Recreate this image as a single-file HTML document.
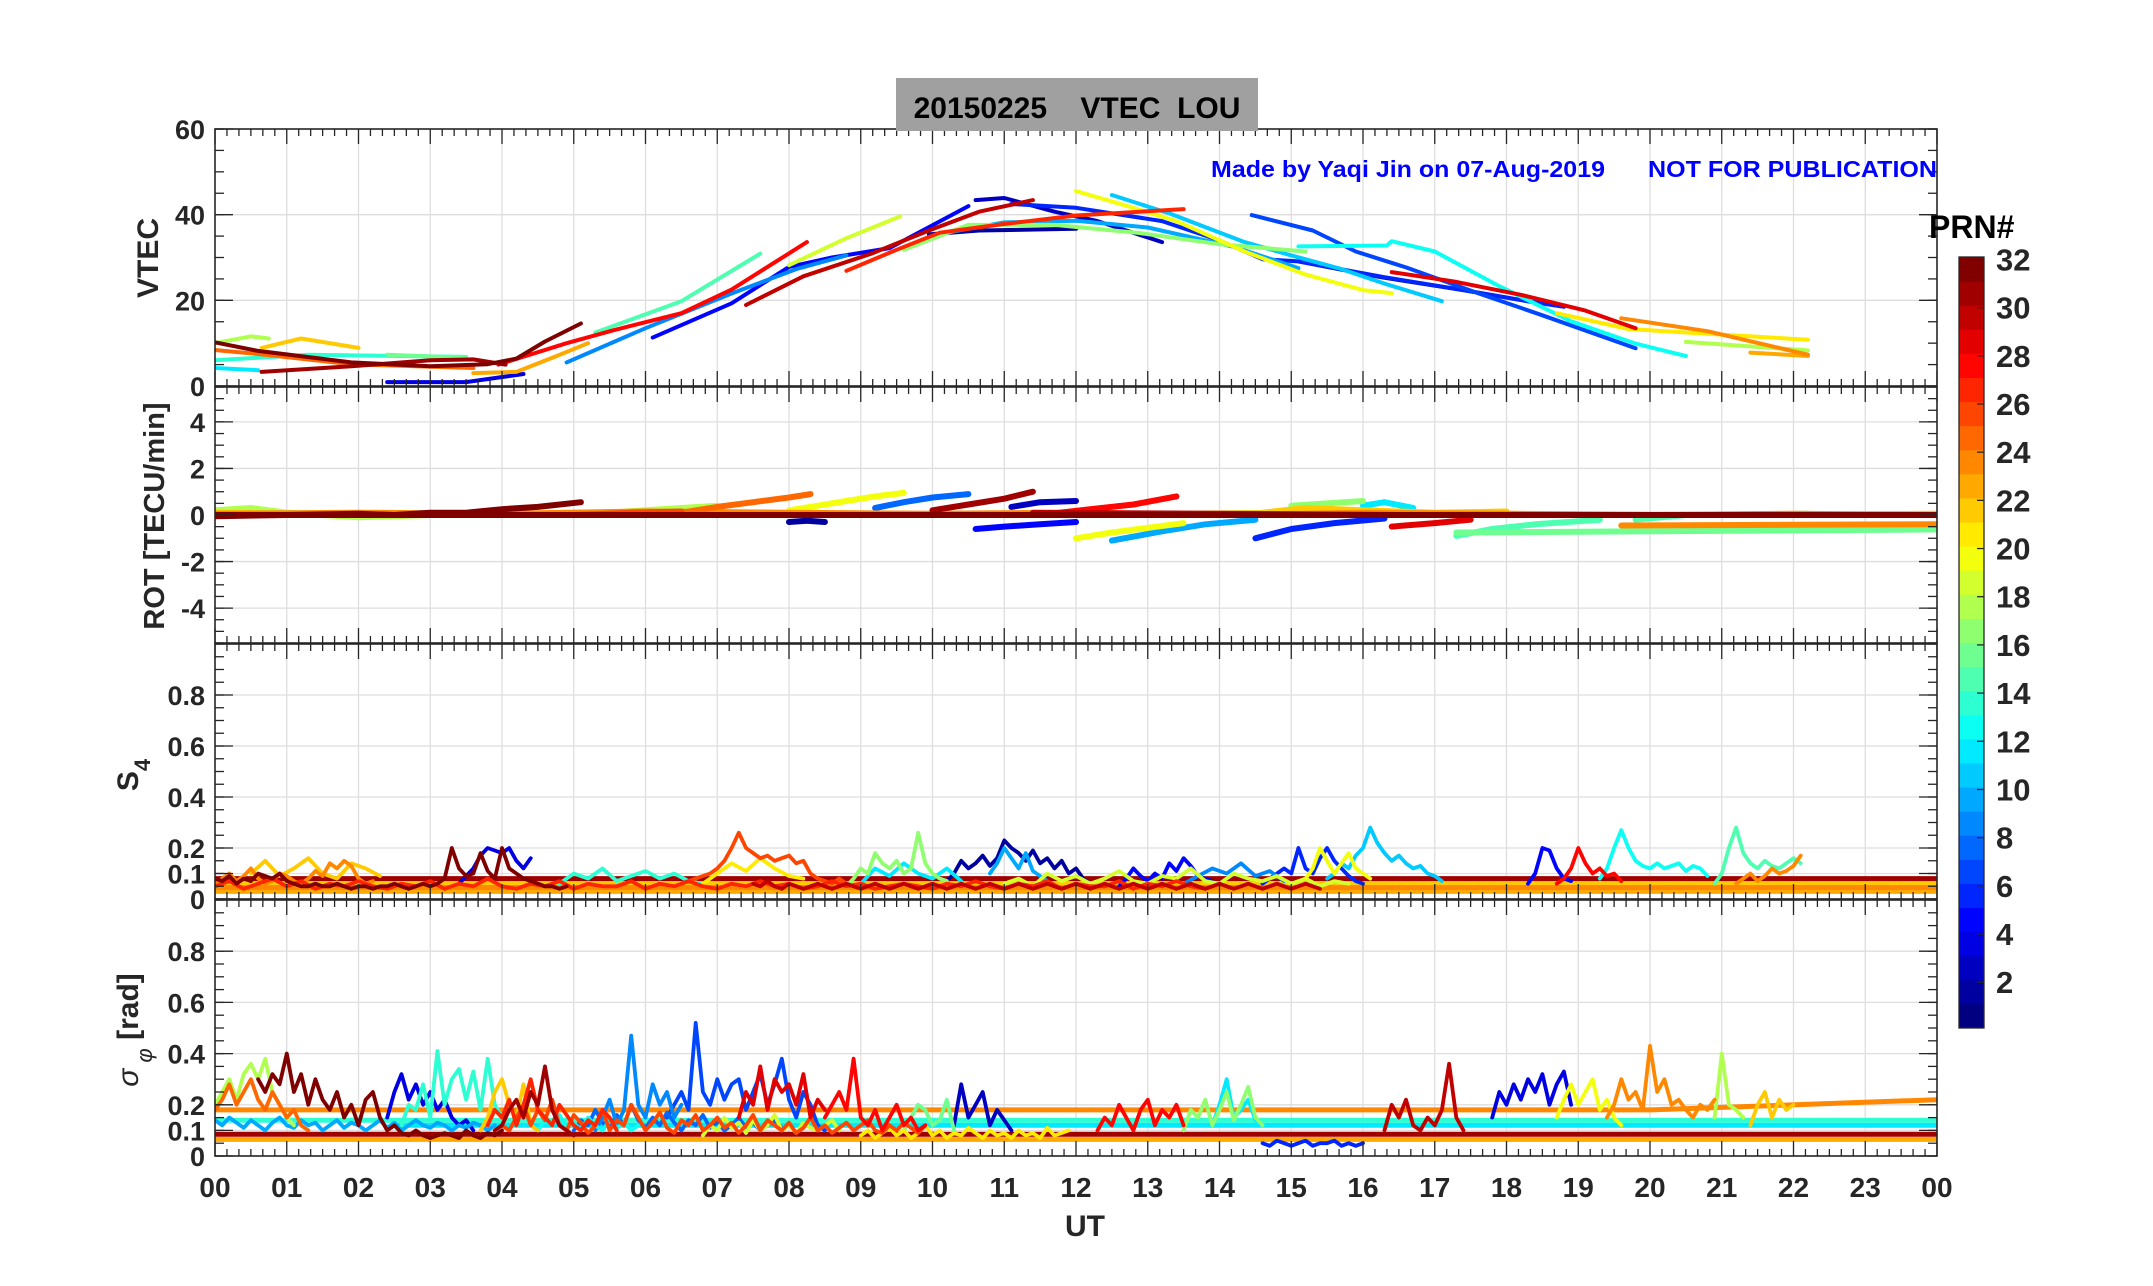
<!DOCTYPE html>
<html><head><meta charset="utf-8"><style>
html,body{margin:0;padding:0;background:#fff;}
svg{display:block;font-family:"Liberation Sans",Arial,sans-serif;}
</style></head><body>
<svg id="chart" width="2153" height="1286" viewBox="0 0 2153 1286" xmlns="http://www.w3.org/2000/svg">
<rect x="0" y="0" width="2153" height="1286" fill="#fff"/>
<g id="grid"></g>
<g id="marks"></g>
<g id="axes"></g>
<rect x="896" y="78" width="362" height="53" fill="#a0a0a0"/>
<text x="1077" y="118" text-anchor="middle" font-size="30" font-weight="bold" fill="#000" xml:space="preserve">20150225    VTEC  LOU</text>
<text x="1211" y="177" font-size="23" font-weight="bold" fill="#0000ff" textLength="394" lengthAdjust="spacingAndGlyphs">Made by Yaqi Jin on 07-Aug-2019</text>
<text x="1648" y="177" font-size="23" font-weight="bold" fill="#0000ff" textLength="289" lengthAdjust="spacingAndGlyphs">NOT FOR PUBLICATION</text>
<text transform="translate(158,258) rotate(-90)" text-anchor="middle" font-size="30" font-weight="bold" fill="#262626">VTEC</text>
<text transform="translate(164,516) rotate(-90)" text-anchor="middle" font-size="29" font-weight="bold" fill="#262626">ROT [TECU/min]</text>
<text transform="translate(138,775) rotate(-90)" text-anchor="middle" font-size="30" font-weight="bold" fill="#262626">S<tspan font-size="22" dy="12">4</tspan></text>
<text transform="translate(138,1030) rotate(-90)" text-anchor="middle" font-size="30" font-weight="bold" fill="#262626"><tspan font-weight="normal" font-style="italic">σ</tspan><tspan font-size="22" dy="14" font-weight="normal" font-style="italic"> φ</tspan><tspan dy="-14"> [rad]</tspan></text>
<text x="1085" y="1236" text-anchor="middle" font-size="30" font-weight="bold" fill="#262626">UT</text>
<text x="1929" y="238" font-size="32" font-weight="bold" fill="#000">PRN#</text>
<g id="cbar"></g>
</svg>
<script>
// ---------- data ----------
const vtecPrn = [32,31,18,22,25,14,16,12,4,23,28,15,9,5,19,30,27,3,6,17,2,11,20,7,13,1,10,29,21,24,18,23];
const vtecT = [
 [0,0.6,1.9,3,3.8,4.2,4.6,5.1],
 [0.65,1.9,3,3.6,4.05],
 [0,0.5,0.75],
 [0.65,1.2,2],
 [0,0.7,1.9,2.8,3.6],
 [0,1.3,3.5],
 [2.4,3.5],
 [0,0.6],
 [2.4,3.5,4.3],
 [3.6,4.2,4.75,5.2],
 [3.95,4.9,5.55,6.5,7.2,8.25],
 [5.3,6.5,7.6],
 [4.9,6.0,7.2,8.1,8.8],
 [6.1,7.2,8.0,8.6,9.4,10.5],
 [8,8.8,9.55],
 [7.4,8.2,9.15,9.95,10.65,11.4],
 [8.8,9.5,10.1,10.9,12.0,13.5],
 [10.6,11,11.7,12.3,13.2],
 [11.1,12,13.2,14,14.6,15.1,16.3,17.4,18.4,18.8],
 [9.6,10.5,11.7,12.85,14,15.2],
 [9.95,10.65,12],
 [12.5,13.3,14.35,15,15.7,16.3,17.1],
 [12,12.7,13.4,14.35,15.2,16,16.4],
 [14.45,15.3,15.9,16.6,17.6,18.5,19.8],
 [15.1,16.33,16.4,17.0,17.9,18.9,19.8,20.5],
 [15.1,16.25,17.4,18.4],
 [10.1,11.0,12.0,13.0,14.2,15.1],
 [16.4,17.3,18.2,19.1,19.8],
 [18.7,19.7,21.2,22.2],
 [19.6,20.8,22.2],
 [20.5,22.2],
 [21.4,22.2]
];
const vtecV = [
 [10.2,8.2,5.5,4.6,5.1,6.4,10.4,14.6],
 [3.3,4.6,6,6.2,5],
 [10,11.6,11.1],
 [8.9,11.1,8.9],
 [8.4,7.3,5.1,4.6,4.2],
 [6,7.3,6.8],
 [7.3,6.6],
 [4.2,3.7],
 [0.9,0.9,2.8],
 [3,3.3,6.9,10],
 [5,10,13,17,22.5,33.6],
 [12.5,19.8,30.9],
 [5.5,13.5,21.6,27.3,30.5],
 [11.3,19.3,27.8,30,32.2,42],
 [28.2,34.5,39.6],
 [18.9,25.6,30.9,36.3,40.7,43.4],
 [26.9,31.8,35.8,37.6,39.8,41.3],
 [43.4,43.9,40.7,38.5,33.6],
 [42.5,41.6,38.5,34,29.6,29.1,25.4,22.4,19.5,18.5],
 [31.8,37.6,37.6,35.8,33.1,31.4],
 [35.4,36.3,36.7],
 [44.6,40.3,33.6,30.5,27.3,23.9,19.8],
 [45.5,42.1,38.5,31.4,26,22.4,21.7],
 [39.9,36.3,31.4,27.7,21.7,16.5,8.8],
 [32.6,32.8,33.8,31.4,23.3,15.1,9.9,7.0],
 [29.1,25.4,22.4,19.5],
 [35.5,38.2,38.6,37.0,32.5,27.5],
 [26.6,24.3,21.3,17.6,13.5],
 [17.0,13.3,11.8,10.8],
 [15.8,12.8,7.3],
 [10.3,8.3],
 [7.8,7.0]
];

const rotPrn = [24,22,18,32,25,26,20,8,31,3,28,2,5,20,10,6,15,16,17,12,29,24,15,22,30,32];
const rotT = [
 [0,2,4,6,8,10,12,14,16,18,20,22,24],
 [0,3,6,9,12,15,18,21,24],
 [0,0.5,1,2,3,4,5,6,7],
 [0,1,2,2.5,3,3.5,4,4.5,5.1],
 [6.5,7,7.5,8,8.3],
 [5,5.8,6.5],
 [8,8.4,8.8,9.2,9.6],
 [9.2,9.6,10,10.5],
 [10,10.5,11,11.4],
 [11.1,11.5,12],
 [11.5,12.2,12.8,13.4],
 [8.0,8.25,8.5],
 [10.6,11,11.5,12],
 [12,12.5,13,13.5],
 [12.5,13.2,13.8,14.5],
 [14.5,15,15.6,16.3],
 [17.3,17.8,18.4,19.3],
 [17.3,20,24],
 [15.0,15.5,16],
 [16.0,16.3,16.7],
 [16.4,17,17.5],
 [19.6,22,24],
 [19.8,20.5,22.2],
 [14.6,15.2,16,17,18],
 [11.4,14,16.5,19.6,24],
 [0,6,12,18,24]
];
const rotV = [
 [0.05,0.1,0.05,0.15,0.1,0.05,0.1,0.0,0.1,0.05,0.0,0.05,0.0],
 [0.1,0.0,0.1,0.05,0.0,0.1,0.05,0.0,0.05],
 [0.2,0.3,0.1,-0.1,0.0,0.1,0.0,0.2,0.4],
 [-0.05,0.0,0.05,0.0,0.1,0.1,0.25,0.35,0.55],
 [0.1,0.35,0.55,0.75,0.9],
 [0.0,0.1,0.15],
 [0.2,0.4,0.6,0.8,0.95],
 [0.3,0.55,0.75,0.9],
 [0.2,0.45,0.7,1.0],
 [0.35,0.55,0.6],
 [0.0,0.25,0.45,0.8],
 [-0.3,-0.25,-0.3],
 [-0.6,-0.5,-0.4,-0.3],
 [-1.0,-0.75,-0.55,-0.35],
 [-1.1,-0.7,-0.4,-0.2],
 [-1.0,-0.6,-0.35,-0.15],
 [-0.9,-0.6,-0.4,-0.2],
 [-0.75,-0.7,-0.62],
 [0.4,0.5,0.6],
 [0.4,0.55,0.3],
 [-0.5,-0.35,-0.2],
 [-0.45,-0.42,-0.4],
 [-0.2,0.0,0.05],
 [0.1,0.3,0.2,0.1,0.15],
 [0.1,0.05,0.0,0.0,0.0],
 [0.0,0.0,0.0,0.0,0.0]
];

const s4Prn = [24,32,4,26,17,2,10,5,6,11,20,5,28,13,15,24,14,12,9,21,30,22,27,19];
const s4Start = [0,0,3.4,6.5,8.8,10.2,10.8,12.6,14.6,15.5,15.2,18.3,18.7,19.3,20.9,21.2,4.8,9.0,13.5,6.8,7.5,0.5,0,11];
const s4Step = [0.1,0.1,0.1,0.1,0.1,0.1,0.1,0.1,0.1,0.1,0.1,0.1,0.1,0.1,0.1,0.1,0.2,0.2,0.2,0.2,0.1,0.2,0.2,0.2];
const s4V = [
 [0.06,0.08,0.1,0.07,0.09,0.12,0.08,0.06,0.07,0.1,0.09,0.07,0.06,0.08,0.11,0.09,0.14,0.12,0.15,0.13,0.08,0.06,0.07],
 [0.08,0.07,0.09,0.06,0.08,0.07,0.1,0.09,0.08,0.1,0.07,0.06,0.05,0.05,0.06,0.05,0.05,0.06,0.05,0.04,0.05,0.05,0.04,0.05,0.05,0.06,0.05,0.04,0.05,0.06,0.05,0.06,0.08,0.2,0.12,0.09,0.1,0.18,0.11,0.08,0.2,0.12,0.1,0.08,0.07,0.06,0.05,0.05,0.04,0.05],
 [0.06,0.09,0.12,0.17,0.2,0.19,0.18,0.2,0.15,0.12,0.16],
 [0.06,0.07,0.08,0.09,0.1,0.12,0.15,0.2,0.26,0.2,0.18,0.16,0.17,0.15,0.16,0.17,0.14,0.15,0.1,0.08,0.07,0.06,0.08,0.06,0.05],
 [0.05,0.08,0.12,0.1,0.18,0.14,0.12,0.15,0.1,0.12,0.26,0.14,0.1,0.08,0.07],
 [0.07,0.1,0.15,0.12,0.14,0.17,0.13,0.16,0.23,0.2,0.18,0.15,0.19,0.14,0.16,0.12,0.15,0.1,0.12,0.08,0.06],
 [0.1,0.14,0.2,0.16,0.12,0.18,0.11,0.09,0.07],
 [0.05,0.08,0.12,0.09,0.07,0.1,0.08,0.14,0.11,0.16,0.13,0.09,0.08,0.07],
 [0.06,0.08,0.1,0.12,0.1,0.2,0.12,0.1,0.16,0.2,0.15,0.12,0.09,0.07,0.06],
 [0.08,0.1,0.14,0.12,0.17,0.2,0.28,0.22,0.18,0.15,0.17,0.14,0.12,0.13,0.1,0.09,0.07],
 [0.08,0.12,0.2,0.15,0.1,0.14,0.18,0.12,0.1,0.08],
 [0.06,0.1,0.2,0.19,0.12,0.08,0.07],
 [0.06,0.08,0.12,0.2,0.14,0.1,0.12,0.09,0.1,0.07],
 [0.08,0.12,0.2,0.27,0.2,0.15,0.13,0.12,0.14,0.12,0.13,0.14,0.11,0.13,0.12,0.09],
 [0.06,0.1,0.2,0.28,0.18,0.14,0.12,0.15,0.13,0.12,0.14,0.16,0.14],
 [0.06,0.08,0.1,0.07,0.09,0.12,0.1,0.11,0.13,0.17],
 [0.06,0.1,0.08,0.12,0.07,0.09,0.11,0.08,0.1,0.07,0.06],
 [0.06,0.12,0.09,0.14,0.1,0.08,0.12,0.07],
 [0.06,0.09,0.12,0.1,0.14,0.09,0.11,0.07],
 [0.06,0.1,0.14,0.11,0.16,0.12,0.09,0.08],
 [0.06,0.05,0.07,0.05,0.04,0.06,0.05,0.04,0.05,0.06,0.05,0.04,0.05,0.06,0.05,0.04,0.05,0.06,0.05,0.04,0.05,0.06,0.05,0.04,0.05,0.06,0.05,0.04,0.05,0.06,0.05,0.04,0.05,0.06,0.05,0.04,0.05,0.06,0.05,0.04,0.05,0.06,0.05,0.04,0.05,0.06,0.05,0.04,0.05,0.06,0.05,0.04,0.05,0.06,0.05,0.04,0.05,0.06,0.05,0.04,0.05,0.06,0.05,0.04,0.05,0.06,0.05,0.04,0.05,0.06,0.05,0.04,0.05,0.06,0.05,0.04,0.05,0.06,0.05,0.04],
 [0.1,0.15,0.09,0.12,0.16,0.1,0.08,0.14,0.12,0.09],
 [0.05,0.07,0.04,0.06,0.08,0.05,0.07,0.04,0.06,0.05,0.07,0.05,0.04,0.06,0.05,0.07,0.04,0.06,0.05,0.08,0.05,0.04,0.06,0.05,0.07,0.04,0.06,0.05,0.05,0.07,0.04,0.06,0.05,0.07,0.05,0.04,0.06,0.05,0.07,0.05,0.06,0.04,0.05,0.07,0.05,0.06,0.04,0.05,0.06,0.05,0.04,0.06,0.05,0.07,0.05,0.04,0.06,0.05,0.07,0.04,0.06,0.05,0.05,0.07,0.04,0.06,0.05,0.07,0.05,0.04],
 [0.06,0.08,0.05,0.1,0.07,0.09,0.06,0.08,0.11,0.07,0.06,0.09,0.08,0.12,0.07,0.06,0.1,0.08,0.07,0.09,0.06,0.08,0.05,0.07,0.06]
];
const s4FlatPrn = [23,24,22,31];
const s4FlatT = [[0,24],[0,24],[0,24],[0,24]];
const s4FlatV = [[0.03,0.03],[0.045,0.045],[0.06,0.06],[0.08,0.08]];

const sigPrn = [18,25,32,4,14,22,27,31,9,7,29,28,3,16,28,17,12,6,30,4,20,24,18,22,13,19,26,10,21,8];
const sigStart = [0,0,0.6,2.4,2.6,3.7,3.8,3.9,5.3,6.3,7.3,8.5,10.3,9.6,12.3,13.5,13.9,14.6,16.3,17.8,18.7,19.4,20.9,21.4,4.5,6.8,4.0,0,9.0,5.0];
const sigV = [
 [0.2,0.25,0.3,0.22,0.32,0.36,0.3,0.38,0.25,0.2,0.15,0.12],
 [0.18,0.22,0.28,0.2,0.25,0.3,0.22,0.18,0.25,0.2,0.15,0.18,0.12,0.1],
 [0.3,0.25,0.32,0.28,0.4,0.25,0.32,0.2,0.3,0.22,0.18,0.25,0.15,0.2,0.12,0.22,0.25,0.15,0.1,0.12,0.09,0.08,0.1,0.08,0.07,0.08,0.09,0.08,0.07,0.1,0.08,0.07,0.09,0.08,0.1],
 [0.15,0.25,0.32,0.22,0.28,0.2,0.25,0.18,0.22,0.15,0.12,0.14,0.1],
 [0.12,0.2,0.18,0.28,0.15,0.41,0.2,0.3,0.34,0.22,0.33,0.18,0.38,0.2,0.15],
 [0.1,0.15,0.25,0.3,0.2,0.15,0.28,0.12,0.1],
 [0.12,0.18,0.15,0.22,0.12,0.2,0.3,0.18,0.15,0.12,0.2,0.16,0.12,0.1,0.14,0.12,0.18,0.15,0.1],
 [0.1,0.12,0.18,0.22,0.15,0.25,0.2,0.35,0.18,0.12,0.1,0.08],
 [0.1,0.15,0.22,0.12,0.18,0.47,0.2,0.15,0.28,0.2,0.25,0.15,0.2],
 [0.15,0.2,0.25,0.18,0.52,0.25,0.2,0.3,0.22,0.28,0.3,0.18,0.25,0.32,0.2,0.28,0.38,0.22,0.15,0.25,0.2,0.12,0.1],
 [0.15,0.25,0.2,0.35,0.18,0.3,0.25,0.28,0.2,0.32,0.15,0.22,0.18],
 [0.15,0.2,0.25,0.18,0.38,0.15,0.12,0.18,0.1,0.15,0.2,0.12,0.15,0.1,0.12],
 [0.12,0.28,0.15,0.2,0.25,0.12,0.18,0.14,0.1],
 [0.1,0.15,0.2,0.18,0.12,0.14,0.22,0.1],
 [0.1,0.15,0.12,0.2,0.15,0.1,0.18,0.22,0.12,0.18,0.15,0.2,0.12],
 [0.1,0.18,0.15,0.22,0.12,0.18,0.25,0.14,0.2,0.27,0.15,0.12],
 [0.12,0.2,0.3,0.15,0.18,0.22,0.14,0.12],
 [0.05,0.04,0.06,0.05,0.04,0.05,0.06,0.04,0.05,0.05,0.06,0.04,0.05,0.04,0.05],
 [0.1,0.2,0.15,0.22,0.12,0.1,0.15,0.12,0.18,0.36,0.15,0.1],
 [0.15,0.25,0.2,0.28,0.22,0.3,0.25,0.32,0.2,0.28,0.33,0.2],
 [0.15,0.22,0.28,0.2,0.25,0.3,0.18,0.22,0.15,0.12],
 [0.15,0.2,0.3,0.22,0.25,0.18,0.43,0.25,0.3,0.2,0.22,0.18,0.15,0.2,0.18,0.22],
 [0.15,0.4,0.2,0.18,0.15],
 [0.12,0.2,0.25,0.15,0.22,0.18,0.2],
 [0.1,0.14,0.12,0.16,0.11,0.13,0.1,0.15,0.12,0.1,0.14,0.11,0.13,0.1,0.12],
 [0.08,0.12,0.1,0.15,0.11,0.13,0.09,0.14,0.1,0.12,0.16,0.1,0.12,0.09,0.13,0.11,0.1,0.12,0.14,0.1],
 [0.12,0.1,0.15,0.2,0.12,0.18,0.14,0.22,0.12,0.1,0.16,0.13,0.09,0.12,0.18,0.1,0.14,0.12,0.2,0.15,0.1,0.13,0.17,0.11,0.09,0.14,0.12,0.16,0.1,0.12,0.15,0.11,0.13,0.09,0.12,0.16,0.1,0.14,0.12,0.1,0.13,0.09,0.11,0.15,0.1,0.12,0.09,0.11,0.13,0.1,0.12,0.14,0.1,0.09,0.12,0.1,0.13,0.11,0.09,0.12],
 [0.14,0.12,0.15,0.13,0.11,0.14,0.12,0.1,0.13,0.15,0.12,0.11,0.14,0.12,0.13,0.1,0.12,0.14,0.11,0.13,0.12,0.1,0.12,0.14,0.11,0.13,0.1,0.12,0.14,0.12,0.11,0.13,0.12,0.1,0.12,0.11,0.13,0.12,0.1,0.12],
 [0.08,0.1,0.07,0.09,0.11,0.08,0.1,0.07,0.09,0.12,0.08,0.1,0.07,0.09,0.08,0.11,0.09,0.07,0.1,0.08,0.09,0.07,0.1,0.08,0.09,0.07,0.11,0.08,0.09,0.1],
 [0.1,0.14,0.12,0.18,0.13,0.11,0.16,0.12,0.2,0.14,0.11,0.15,0.12,0.17,0.13,0.1,0.14,0.12,0.16,0.11,0.13,0.1,0.12,0.15,0.11,0.13,0.1,0.12,0.14,0.11]
];
const sigStep = 0.1;
const sigFlatPrn = [23,12,14,24,31];
const sigFlatT = [[0,24],[2.5,24],[0,24],[0,20,24],[0,24]];
const sigFlatV = [[0.065,0.065],[0.12,0.12],[0.14,0.14],[0.18,0.18,0.22],[0.085,0.085]];

const hourLabels = ["00","01","02","03","04","05","06","07","08","09","10","11","12","13","14","15","16","17","18","19","20","21","22","23","00"];
const vtecTicks = [0,20,40,60];
const rotTicks = [-4,-2,0,2,4];
const scTicks = [0,0.1,0.2,0.4,0.6,0.8];
const cbarTicks = [2,4,6,8,10,12,14,16,18,20,22,24,26,28,30,32];

// ---------- geometry ----------
const NS = "http://www.w3.org/2000/svg";
const X0 = 215, X1 = 1937;
const xs = h => X0 + h * (X1 - X0) / 24;
const panels = [
 {name:"vtec", top:129, bot:386, min:0, max:60},
 {name:"rot", top:387, bot:643, min:-5.5, max:5.5},
 {name:"s4", top:644, bot:899, min:0, max:1},
 {name:"sigma", top:900, bot:1156, min:0, max:1}
];
const ys = (p, v) => p.bot - (v - p.min) / (p.max - p.min) * (p.bot - p.top);
function jet(prn){
  const c = (prn - 1) / 31;
  const cl = v => Math.max(0, Math.min(1, v));
  const r = cl(1.5 - Math.abs(4*c - 3)), g = cl(1.5 - Math.abs(4*c - 2)), b = cl(1.5 - Math.abs(4*c - 1));
  return `rgb(${Math.round(r*255)},${Math.round(g*255)},${Math.round(b*255)})`;
}
function el(tag, attrs, parent){
  const e = document.createElementNS(NS, tag);
  for (const k in attrs) e.setAttribute(k, attrs[k]);
  parent.appendChild(e);
  return e;
}
const grid = document.getElementById("grid");
const marks = document.getElementById("marks");
const axes = document.getElementById("axes");
const cbar = document.getElementById("cbar");

panels.forEach((p, pi) => {
  for (let h = 1; h < 24; h++) {
    const l = el("line", {x1: xs(h), x2: xs(h), y1: p.top, y2: p.bot, stroke: "#dedede", "stroke-width": 1.3}, grid);
    
    
  }
  const tk = pi === 0 ? vtecTicks : pi === 1 ? rotTicks : scTicks;
  tk.forEach(v => {
    const l = el("line", {x1: X0, x2: X1, y1: ys(p, v), y2: ys(p, v), stroke: "#dedede", "stroke-width": 1.3}, grid);
    
    
  });
});

const defs = el("defs", {}, document.getElementById("chart"));
panels.forEach((p, i) => {
  const cp = el("clipPath", {id: "clip" + i}, defs);
  el("rect", {x: X0, y: p.top, width: X1 - X0, height: p.bot - p.top}, cp);
});

function drawLine(p, pi, prn, ts, vs, w, name){
  let d = "";
  for (let i = 0; i < ts.length; i++) d += (i ? "L" : "M") + xs(ts[i]).toFixed(1) + "," + ys(p, vs[i]).toFixed(1);
  const path = el("path", {d: d, fill: "none", stroke: jet(prn), "stroke-width": w, "stroke-linejoin": "round", "stroke-linecap": "round", "clip-path": `url(#clip${pi})`}, marks);
  
  
}
function order(prns){ return prns.map((p, i) => i).sort((a, b) => prns[a] - prns[b]); }

order(vtecPrn).forEach(i => drawLine(panels[0], 0, vtecPrn[i], vtecT[i], vtecV[i], 4, 'vtec-track-prn' + vtecPrn[i]));
order(rotPrn).forEach(i => drawLine(panels[1], 1, rotPrn[i], rotT[i], rotV[i], 6, 'rot-track-prn' + rotPrn[i]));
order(s4FlatPrn).forEach(i => drawLine(panels[2], 2, s4FlatPrn[i], s4FlatT[i], s4FlatV[i], 5, 's4-baseline-prn' + s4FlatPrn[i]));
order(s4Prn).forEach(i => {
  const ts = s4V[i].map((v, k) => s4Start[i] + k * s4Step[i]);
  drawLine(panels[2], 2, s4Prn[i], ts, s4V[i], 3.8, 's4-series-prn' + s4Prn[i]);
});
order(sigFlatPrn).forEach(i => drawLine(panels[3], 3, sigFlatPrn[i], sigFlatT[i], sigFlatV[i], 5, 'sigma-baseline-prn' + sigFlatPrn[i]));
order(sigPrn).forEach(i => {
  const ts = sigV[i].map((v, k) => sigStart[i] + k * sigStep);
  drawLine(panels[3], 3, sigPrn[i], ts, sigV[i], 3.8, 'sigma-series-prn' + sigPrn[i]);
});

const AX = "#262626";
panels.forEach((p, pi) => {
  const fr = el("rect", {x: X0, y: p.top, width: X1 - X0, height: p.bot - p.top, fill: "none", stroke: AX, "stroke-width": 1.6}, axes);
  
  
  for (let m = 0; m <= 144; m++) {
    const h = m / 6, major = m % 6 === 0, len = major ? 15 : 7;
    [[p.top, p.top + len], [p.bot, p.bot - len]].forEach(([a, b]) => {
      const t = el("line", {x1: xs(h), x2: xs(h), y1: a, y2: b, stroke: AX, "stroke-width": 1.3}, axes);
      
      
    });
  }
  const minorStep = pi === 0 ? 5 : pi === 1 ? 0.5 : 0.05;
  for (let v = p.min; v <= p.max + 1e-9; v += minorStep) {
    [[X0, X0 + 9], [X1, X1 - 9]].forEach(([a, b]) => {
      const t = el("line", {x1: a, x2: b, y1: ys(p, v), y2: ys(p, v), stroke: AX, "stroke-width": 1.3}, axes);
      
      
    });
  }
  const tk = pi === 0 ? vtecTicks : pi === 1 ? rotTicks : scTicks;
  tk.forEach(v => {
    [[X0, X0 + 18], [X1, X1 - 18]].forEach(([a, b]) => {
      const t = el("line", {x1: a, x2: b, y1: ys(p, v), y2: ys(p, v), stroke: AX, "stroke-width": 1.3}, axes);
      
      
    });
    const lb = el("text", {x: 205, y: ys(p, v) + 10, "text-anchor": "end", "font-size": 27, "font-weight": "bold", fill: AX}, axes);
    lb.textContent = String(v);
    
    
  });
});
hourLabels.forEach((s, h) => {
  const lb = el("text", {x: xs(h), y: 1197, "text-anchor": "middle", "font-size": 28, "font-weight": "bold", fill: AX}, axes);
  lb.textContent = s;
  
  
});

const CB = {x: 1959, w: 25, top: 257, bot: 1028};
const bandH = (CB.bot - CB.top) / 32;
for (let k = 1; k <= 32; k++) {
  const r = el("rect", {x: CB.x, y: CB.top + (32 - k) * bandH, width: CB.w, height: bandH + 0.5, fill: jet(k)}, cbar);
  
  
}
const cbf = el("rect", {x: CB.x, y: CB.top, width: CB.w, height: CB.bot - CB.top, fill: "none", stroke: AX, "stroke-width": 1.3}, cbar);


cbarTicks.forEach(v => {
  const yy = CB.top + (32 - v) * bandH + bandH * 0.1;
  const t = el("line", {x1: CB.x + CB.w - 7, x2: CB.x + CB.w, y1: yy, y2: yy, stroke: AX, "stroke-width": 1.3}, cbar);
  
  
  const lb = el("text", {x: 1996, y: yy + 11, "font-size": 31, "font-weight": "bold", fill: AX}, cbar);
  lb.textContent = String(v);
  
  
});
</script>
</body></html>
